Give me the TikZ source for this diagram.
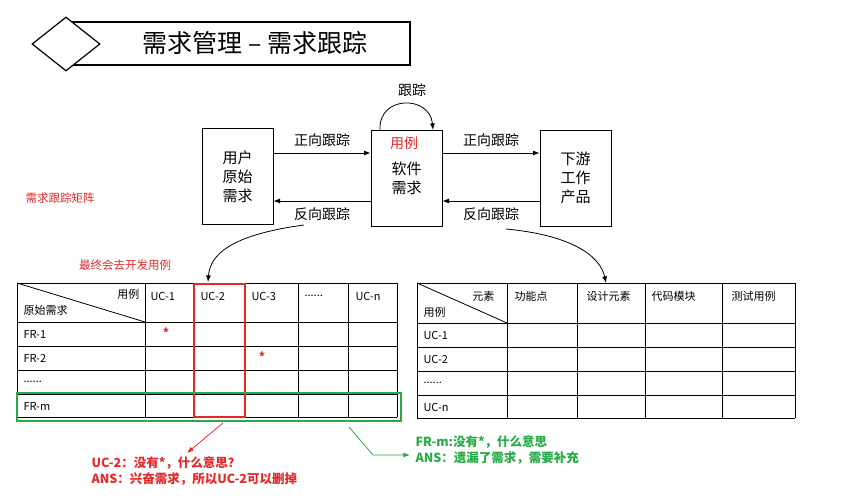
\documentclass[tikz,border=0pt]{standalone}
\usepackage{fontspec}
\setmainfont{Noto Sans CJK SC}
\usetikzlibrary{arrows.meta,shapes.geometric}
\definecolor{annored}{RGB}{230,40,40}
\definecolor{annogreen}{RGB}{40,170,70}

\begin{document}
\begin{tikzpicture}
  [x=1pt,y=-1pt,
   box/.style={draw,thick,minimum width=71pt,minimum height=96pt,inner sep=0pt,font=\fontsize{15}{19}\selectfont,align=center},
   lbl/.style={font=\fontsize{14}{16}\selectfont},
   cell/.style={font=\fontsize{11}{12}\selectfont,anchor=west},
   note/.style={font=\bfseries\fontsize{12.5}{16}\selectfont,anchor=west,align=left}]
  \useasboundingbox (0,0) rectangle (862,499);
  % title
  \draw[very thick] (73,22) rectangle (410,65);
  \node[draw,very thick,fill=white,diamond,minimum width=68pt,minimum height=54pt,inner sep=0pt] (dia) at (66,44) {};
  \node[font=\fontsize{25}{28}\selectfont] (title) at (255,43) {需求管理 – 需求跟踪};
  % trace flow
  \node[box] (user) at (237.5,176.5) {用户\\原始\\需求};
  \node[box] (soft) at (406.5,178) {};
  \node[box] (down) at (575.5,178) {下游\\工作\\产品};
  \node[font=\fontsize{15}{19}\selectfont,align=center] (softtxt) at (406.5,178) {软件\\需求};
  \node[lbl,text=annored] (uc) at (404,143) {用例};
  \draw[-{Latex},thick] (user.east |- 0,153) -- (soft.west |- 0,153) node[lbl,midway,above=3pt] {正向跟踪};
  \draw[-{Latex},thick] (soft.east |- 0,153) -- (down.west |- 0,153) node[lbl,midway,above=3pt] {正向跟踪};
  \draw[-{Latex},thick] (soft.west |- 0,201) -- (user.east |- 0,201) node[lbl,midway,below=3pt] {反向跟踪};
  \draw[-{Latex},thick] (down.west |- 0,201) -- (soft.east |- 0,201) node[lbl,midway,below=3pt] {反向跟踪};
  \draw[-{Latex},thick] (380,130) .. controls (378,95) and (430,95) .. (433,130);
  \node[lbl] (loop) at (412,90) {跟踪};
  \node[lbl,text=annored,font=\fontsize{11.5}{13}\selectfont] (matrix) at (60,198) {需求跟踪矩阵};
  \node[lbl,text=annored,font=\fontsize{11.5}{13}\selectfont] (final) at (125,265) {最终会去开发用例};
  \coordinate (c1) at (304,225);
  \coordinate (c2) at (506,229);
  \draw[-{Latex},thick] (c1) .. controls (230,235) and (210,255) .. (208,282);
  \draw[-{Latex},thick] (c2) .. controls (570,235) and (600,255) .. (606,283);
  % left matrix
  \foreach \x in {17,145,194,245,298,348,397} \draw[thick] (\x,283) -- (\x,417);
  \foreach \y in {283,322,346,370,394,417} \draw[thick] (17,\y) -- (397,\y);
  \draw[thick] (17,283) -- (145,322);
  \node[cell,anchor=east] (luc) at (143,294) {用例};
  \node[cell] (lreq) at (20,310) {原始需求};
  \foreach \x/\t in {147/UC-1,197/UC-2,248/UC-3,301/{......},352/UC-n}
    \node[cell] at (\x,296) {\t};
  \foreach \y/\t in {334/FR-1,358/FR-2,382/{......},406/FR-m}
    \node[cell] at (20,\y) {\t};
  \node[text=annored,font=\bfseries\fontsize{12}{12}\selectfont] (s1) at (166,333) {*};
  \node[text=annored,font=\bfseries\fontsize{12}{12}\selectfont] (s2) at (262,357) {*};
  \draw[annored,line width=2.5pt] (194,284) rectangle (245,417);
  \draw[annogreen,line width=2.5pt] (17,393) rectangle (401,421);
  % right matrix
  \foreach \x in {417,507,577,645,722,795} \draw[thick] (\x,283) -- (\x,418);
  \foreach \y in {283,323,347,371,395,418} \draw[thick] (417,\y) -- (795,\y);
  \draw[thick] (417,283) -- (507,323);
  \node[cell,anchor=east] (rel) at (498,296) {元素};
  \node[cell] (ruc) at (420,312) {用例};
  \foreach \x/\t in {511/功能点,583/设计元素,648/代码模块,728/测试用例}
    \node[cell] at (\x,296) {\t};
  \foreach \y/\t in {335/UC-1,359/UC-2,383/{......},407/UC-n}
    \node[cell] at (420,\y) {\t};
  % notes
  \node[note,text=annored] (rnote) at (88,471) {UC-2：没有*，什么意思？\\ANS：兴奋需求，所以UC-2可以删掉};
  \node[note,text=annogreen] (gnote) at (412,450) {FR-m:没有*，什么意思\\ANS：遗漏了需求，需要补充};
  \coordinate (ra) at (223,423);
  \coordinate (ga) at (349,427);
  \draw[-{Latex},annored,thick] (ra) -- (187,453);
  \draw[-{Latex},annogreen,thick] (ga) -- (373,455) -- (410,455);
\end{tikzpicture}
\end{document}
